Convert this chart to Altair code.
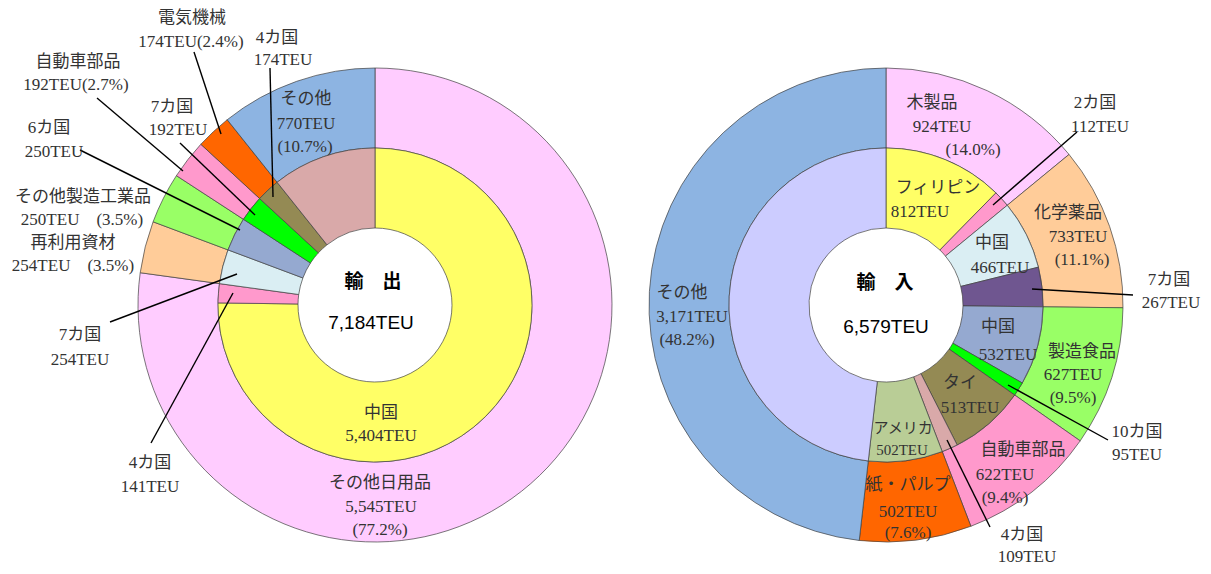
import math
import altair as alt
import pandas as pd

# ---------------- data ----------------
exp_cats = ["その他日用品", "再利用資材", "その他製造工業品", "自動車部品", "電気機械", "その他"]
exp_vals = [5545, 254, 250, 192, 174, 770]
exp_inner_names = ["中国", "4カ国", "7カ国", "6カ国", "7カ国", "4カ国", "その他"]
exp_inner_vals = [5404, 141, 254, 250, 192, 174, 770]

imp_cats = ["木製品", "化学薬品", "製造食品", "自動車部品", "紙・パルプ", "その他"]
imp_vals = [924, 733, 627, 622, 502, 3171]
imp_inner_names = ["フィリピン", "2カ国", "中国", "7カ国", "中国", "10カ国", "タイ", "4カ国", "アメリカ", "その他"]
imp_inner_vals = [812, 112, 466, 267, 532, 95, 513, 109, 502, 3171]

# ---------------- styles ----------------
exp_outer_colors = ["#FFCCFF", "#FFCC99", "#99FF66", "#FF99CC", "#FF6600", "#8DB4E2"]
exp_inner_colors = ["#FFFF66", "#FF99CC", "#DAEEF3", "#95A9D0", "#00FF00", "#948A54", "#D9A9A9"]
imp_outer_colors = ["#FFCCFF", "#FFCC99", "#99FF66", "#FF99CC", "#FF6600", "#8DB4E2"]
imp_inner_colors = ["#FFFF66", "#FF99CC", "#DAEEF3", "#6F5690", "#95A9D0", "#00FF00",
                    "#948A54", "#D9A9A9", "#B9CD96", "#CCCCFF"]

rows, keys, colors = [], [], []
for side, ring, names, vals, cols in [
    ("輸出", "outer", exp_cats, exp_vals, exp_outer_colors),
    ("輸出", "inner", exp_inner_names, exp_inner_vals, exp_inner_colors),
    ("輸入", "outer", imp_cats, imp_vals, imp_outer_colors),
    ("輸入", "inner", imp_inner_names, imp_inner_vals, imp_inner_colors),
]:
    for i, (n, v) in enumerate(zip(names, vals)):
        k = f"{side}-{ring}-{i}"
        rows.append({"side": side, "ring": ring, "order": i, "name": n, "value": v, "key": k})
        keys.append(k)
        colors.append(cols[i])
df = pd.DataFrame(rows)

# ---------------- annotations (page coordinates) ----------------
labels = [
    # export
    ("電気機械", 192, 18), ("174TEU(2.4%)", 191, 42),
    ("4カ国", 277, 38), ("174TEU", 283, 60),
    ("自動車部品", 78, 62), ("192TEU(2.7%)", 76, 85),
    ("7カ国", 172, 107), ("192TEU", 178, 130),
    ("6カ国", 49, 128), ("250TEU", 54, 152),
    ("その他製造工業品", 83, 197), ("250TEU　(3.5%)", 82, 220),
    ("再利用資材", 73, 243), ("254TEU　(3.5%)", 73, 266),
    ("その他", 306, 99), ("770TEU", 306, 124), ("(10.7%)", 305, 147),
    ("7カ国", 80, 335), ("254TEU", 80, 360),
    ("4カ国", 150, 463), ("141TEU", 150, 487),
    ("中国", 381, 413), ("5,404TEU", 381, 436),
    ("その他日用品", 380, 483), ("5,545TEU", 381, 507), ("(77.2%)", 380, 530),
    # import
    ("木製品", 932, 103), ("924TEU", 942, 127), ("(14.0%)", 973, 150),
    ("2カ国", 1095, 103), ("112TEU", 1100, 127),
    ("フィリピン", 938, 188), ("812TEU", 920, 212),
    ("中国", 992, 243), ("466TEU", 1000, 268),
    ("化学薬品", 1068, 213), ("733TEU", 1078, 237), ("(11.1%)", 1082, 260),
    ("7カ国", 1169, 280), ("267TEU", 1171, 303),
    ("中国", 998, 327), ("532TEU", 1008, 355),
    ("製造食品", 1082, 352), ("627TEU", 1073, 375), ("(9.5%)", 1073, 398),
    ("10カ国", 1137, 432), ("95TEU", 1137, 455),
    ("タイ", 960, 383), ("513TEU", 970, 408),
    ("4カ国", 1022, 535), ("109TEU", 1027, 557),
    ("自動車部品", 1023, 450), ("622TEU", 1005, 475), ("(9.4%)", 1005, 498),
    ("紙・パルプ", 908, 485), ("502TEU", 908, 512), ("(7.6%)", 908, 533),
    ("その他", 682, 293), ("3,171TEU", 692, 317), ("(48.2%)", 687, 340),
]
small_labels = [("アメリカ", 903, 428), ("502TEU", 902, 450)]
center_titles = [("輸　出", 373, 282), ("輸　入", 885, 283)]
center_totals = [("7,184TEU", 371, 323), ("6,579TEU", 886, 327)]
leaders = [
    (194, 52, 221, 134), (270, 68, 273, 197), (97, 98, 183, 171), (180, 143, 255, 215),
    (80, 150, 240, 230), (110, 322, 237, 274), (151, 443, 233, 293),
    (1077, 132, 993, 205), (1133, 295, 1032, 289), (1108, 440, 1008, 385), (990, 527, 947, 440),
]

W, H = 1195, 558
xpix = alt.Scale(domain=[8, 8 + W], nice=False, zero=False)
ypix = alt.Scale(domain=[8, 8 + H], nice=False, zero=False, reverse=True)

theta_scale = alt.Scale(domain=[0, 1], range=[0, 2 * math.pi])
side_scale = alt.Scale(type="point", domain=["輸出", "輸入"], range=[375 - 8, 886 - 8], padding=0)
color_scale = alt.Scale(domain=keys, range=colors)

base = (
    alt.Chart(df)
    .transform_window(cum="sum(value)", sort=[alt.SortField("order")], groupby=["side", "ring"])
    .transform_joinaggregate(total="sum(value)", groupby=["side", "ring"])
    .transform_calculate(t0="(datum.cum - datum.value) / datum.total", t1="datum.cum / datum.total")
)

def ring(name, r_out, r_in):
    return (
        base.transform_filter(alt.datum.ring == name)
        .mark_arc(outerRadius=r_out, innerRadius=r_in, stroke="#404040", strokeWidth=0.7)
        .encode(
            x=alt.X("side:N", scale=side_scale, axis=None),
            y=alt.value(305 - 8),
            theta=alt.Theta("t0:Q", scale=theta_scale, stack=None),
            theta2="t1:Q",
            color=alt.Color("key:N", scale=color_scale, legend=None),
        )
    )

outer = ring("outer", 237, 157)
inner = ring("inner", 157, 77)

lab_df = pd.DataFrame(labels, columns=["text", "px", "py"])
small_df = pd.DataFrame(small_labels, columns=["text", "px", "py"])
title_df = pd.DataFrame(center_titles, columns=["text", "px", "py"])
total_df = pd.DataFrame(center_totals, columns=["text", "px", "py"])
lead_df = pd.DataFrame(leaders, columns=["x1", "y1", "x2", "y2"])

FONT = "Liberation Serif, Noto Sans CJK JP"

def text_layer(d, size, color="#333333", font=FONT, weight="normal"):
    return (
        alt.Chart(d)
        .mark_text(fontSize=size, font=font, color=color, fontWeight=weight, baseline="middle", align="center")
        .encode(
            x=alt.X("px:Q", scale=xpix, axis=None),
            y=alt.Y("py:Q", scale=ypix, axis=None),
            text="text:N",
        )
    )

lines = (
    alt.Chart(lead_df)
    .mark_rule(color="#000000", strokeWidth=1.4)
    .encode(
        x=alt.X("x1:Q", scale=xpix, axis=None),
        y=alt.Y("y1:Q", scale=ypix, axis=None),
        x2="x2:Q",
        y2="y2:Q",
    )
)

chart = (
    alt.layer(
        outer,
        inner,
        lines,
        text_layer(lab_df, 17),
        text_layer(small_df, 15),
        text_layer(title_df, 19, color="#000000", font="Noto Sans CJK JP", weight="bold"),
        text_layer(total_df, 19, color="#000000", font="Liberation Sans"),
    )
    .resolve_scale(x="independent", y="independent")
    .properties(width=W, height=H, autosize=alt.AutoSizeParams(type="none"), padding=0)
    .configure_view(stroke=None)
)

chart.save("out.html", embed_options={"renderer": "svg", "actions": False})
